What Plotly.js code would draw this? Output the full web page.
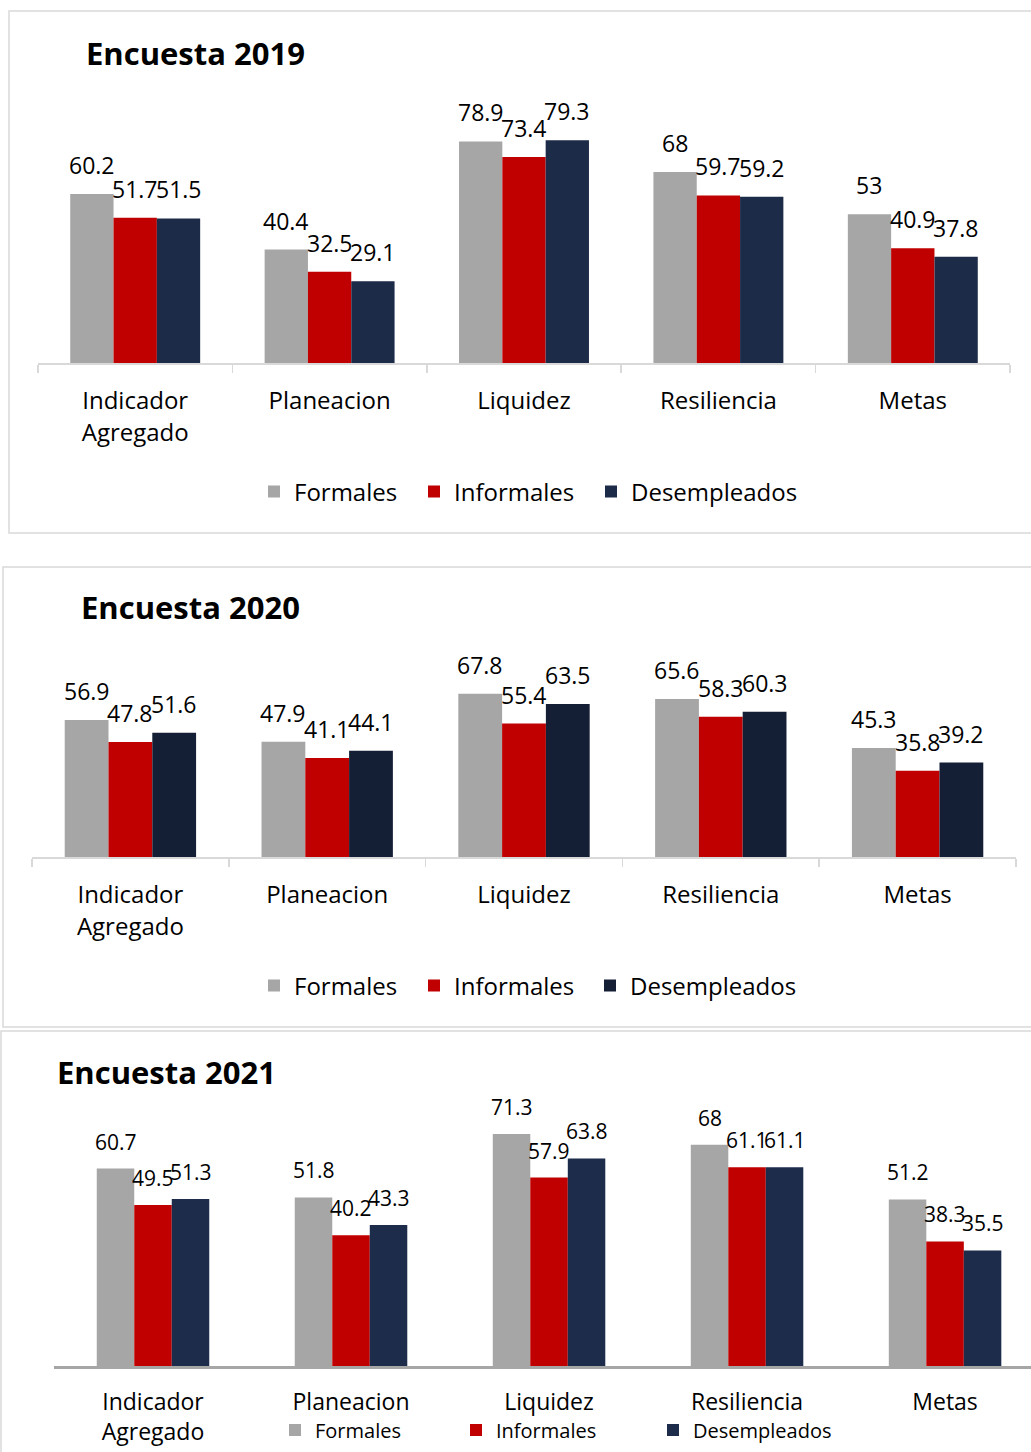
<!DOCTYPE html>
<html>
<head>
<meta charset="utf-8">
<script src="https://cdn.plot.ly/plotly-3.0.1.min.js"></script>
<style>
  html, body { margin: 0; padding: 0; background: #ffffff; }
  #chart { width: 1031px; height: 1452px; }
</style>
</head>
<body>
<div id="chart"></div>
<script>
// ---------- DATA ----------
const categories = ['Indicador<br>Agregado', 'Planeacion', 'Liquidez', 'Resiliencia', 'Metas'];
const seriesNames = ['Formales', 'Informales', 'Desempleados'];

const formales2019     = [60.2, 40.4, 78.9, 68, 53];
const informales2019   = [51.7, 32.5, 73.4, 59.7, 40.9];
const desempleados2019 = [51.5, 29.1, 79.3, 59.2, 37.8];

const formales2020     = [56.9, 47.9, 67.8, 65.6, 45.3];
const informales2020   = [47.8, 41.1, 55.4, 58.3, 35.8];
const desempleados2020 = [51.6, 44.1, 63.5, 60.3, 39.2];

const formales2021     = [60.7, 51.8, 71.3, 68, 51.2];
const informales2021   = [49.5, 40.2, 57.9, 61.1, 38.3];
const desempleados2021 = [51.3, 43.3, 63.8, 61.1, 35.5];

const panelTitles = ['Encuesta 2019', 'Encuesta 2020', 'Encuesta 2021'];

// ---------- STYLE / LAYOUT GEOMETRY (pixels of a 1031 x 1452 page) ----------
const W = 1031, H = 1452;
const FONT = '"Open Sans", Lato, sans-serif';
const px = v => v / W;
const py = v => 1 - v / H;

const panels = [
  { data: [formales2019, informales2019, desempleados2019],
    colors: ['#A6A6A6', '#C00000', '#1C2B48'],
    box: [9, 11, 1040, 533], title: [84, 53],
    xPix: [38, 1010], xRange: [-0.5, 4.5], base: 363, top: 110.3, yMax: 90,
    barFrac: 0.2228, ticks: true, axisColor: '#D9D9D9', axisWidth: 1.5,
    tickSize: 24, standoff: 16, labelSize: 23,
    legendSize: 24, legendLeft: 254, legendY: 492, entryW: [115, 132, null] },
  { data: [formales2020, informales2020, desempleados2020],
    colors: ['#A6A6A6', '#C00000', '#141F36'],
    box: [3, 567, 1040, 1027], title: [79, 607],
    xPix: [32, 1016], xRange: [-0.5, 4.5], base: 857, top: 640.3, yMax: 90,
    barFrac: 0.2225, ticks: true, axisColor: '#D9D9D9', axisWidth: 1.5,
    tickSize: 24, standoff: 16, labelSize: 23,
    legendSize: 24, legendLeft: 254, legendY: 986, entryW: [115, 131, null] },
  { data: [formales2021, informales2021, desempleados2021],
    colors: ['#A6A6A6', '#C00000', '#1C2C4A'],
    box: [1, 1031, 1040, 1470], title: [55, 1072],
    xPix: [54, 1031], xRange: [-0.5, 4.434], base: 1366, top: 1105.7, yMax: 80,
    barFrac: 0.1894, ticks: false, axisColor: '#A6A6A6', axisWidth: 2.5,
    tickSize: 23, standoff: 14, labelSize: 21,
    legendSize: 20, legendLeft: 275, legendY: 1430, entryW: [136, 152, null] }
];

const traces = [];
const annotations = [];
const shapes = [];
const layout = {
  width: W, height: H,
  margin: { l: 0, r: 0, t: 0, b: 0, pad: 0 },
  paper_bgcolor: '#ffffff', plot_bgcolor: 'rgba(0,0,0,0)',
  font: { family: FONT, color: '#000000' },
  barmode: 'group',
  bargap: 0.33, bargroupgap: 0,
  showlegend: true
};

panels.forEach((p, k) => {
  const sfx = k === 0 ? '' : String(k + 1);
  const xa = 'x' + sfx, ya = 'y' + sfx;
  const legendId = 'legend' + sfx;
  const catPx = (p.xPix[1] - p.xPix[0]) / (p.xRange[1] - p.xRange[0]);

  p.data.forEach((vals, i) => {
    const tr = {
      type: 'bar', name: seriesNames[i], x: categories, y: vals,
      xaxis: xa, yaxis: ya, legend: legendId,
      width: p.barFrac, offset: (i - 1.5) * p.barFrac,
      marker: { color: p.colors[i], line: { width: 0 } },
      hoverinfo: 'skip'
    };
    if (p.entryW[i]) tr.legendwidth = p.entryW[i];
    traces.push(tr);
    vals.forEach((v, j) => {
      annotations.push({
        xref: xa, yref: ya, x: categories[j], y: v,
        text: String(v), showarrow: false,
        xanchor: 'center', yanchor: 'bottom',
        xshift: (i - 1) * p.barFrac * catPx, yshift: 11,
        font: { family: FONT, size: p.labelSize, color: '#000000' }
      });
    });
  });

  layout['xaxis' + sfx] = {
    domain: [px(p.xPix[0]), Math.min(1, px(p.xPix[1]))],
    anchor: ya, type: 'category', range: p.xRange,
    showline: true, linecolor: p.axisColor, linewidth: p.axisWidth,
    showgrid: false, zeroline: false,
    ticks: p.ticks ? 'outside' : '', tickson: 'boundaries',
    ticklen: 8, tickwidth: 1.5, tickcolor: p.axisColor,
    ticklabelstandoff: p.standoff,
    tickfont: { family: FONT, size: p.tickSize, color: '#000000' },
    fixedrange: true
  };
  layout['yaxis' + sfx] = {
    domain: [py(p.base), py(p.top)], anchor: xa,
    range: [0, p.yMax], visible: false, showgrid: false, zeroline: false,
    fixedrange: true
  };
  layout[legendId] = {
    orientation: 'h', x: px(p.legendLeft), xanchor: 'left',
    y: py(p.legendY), yanchor: 'middle',
    font: { family: FONT, size: p.legendSize, color: '#000000' },
    itemwidth: 30,
    bgcolor: 'rgba(0,0,0,0)', itemclick: false, itemdoubleclick: false
  };
  shapes.push({
    type: 'rect', xref: 'paper', yref: 'paper', layer: 'below',
    x0: px(p.box[0]), x1: px(p.box[2]), y0: py(p.box[3]), y1: py(p.box[1]),
    line: { color: '#D9D9D9', width: 1.5 }, fillcolor: 'rgba(0,0,0,0)'
  });
  annotations.push({
    xref: 'paper', yref: 'paper', x: px(p.title[0]), y: py(p.title[1]),
    xanchor: 'left', yanchor: 'middle', showarrow: false,
    text: '<b>' + panelTitles[k] + '</b>',
    font: { family: FONT, size: 31, color: '#000000' }
  });
});

layout.annotations = annotations;
layout.shapes = shapes;

Plotly.newPlot('chart', traces, layout, { staticPlot: true, displayModeBar: false });
</script>
</body>
</html>
